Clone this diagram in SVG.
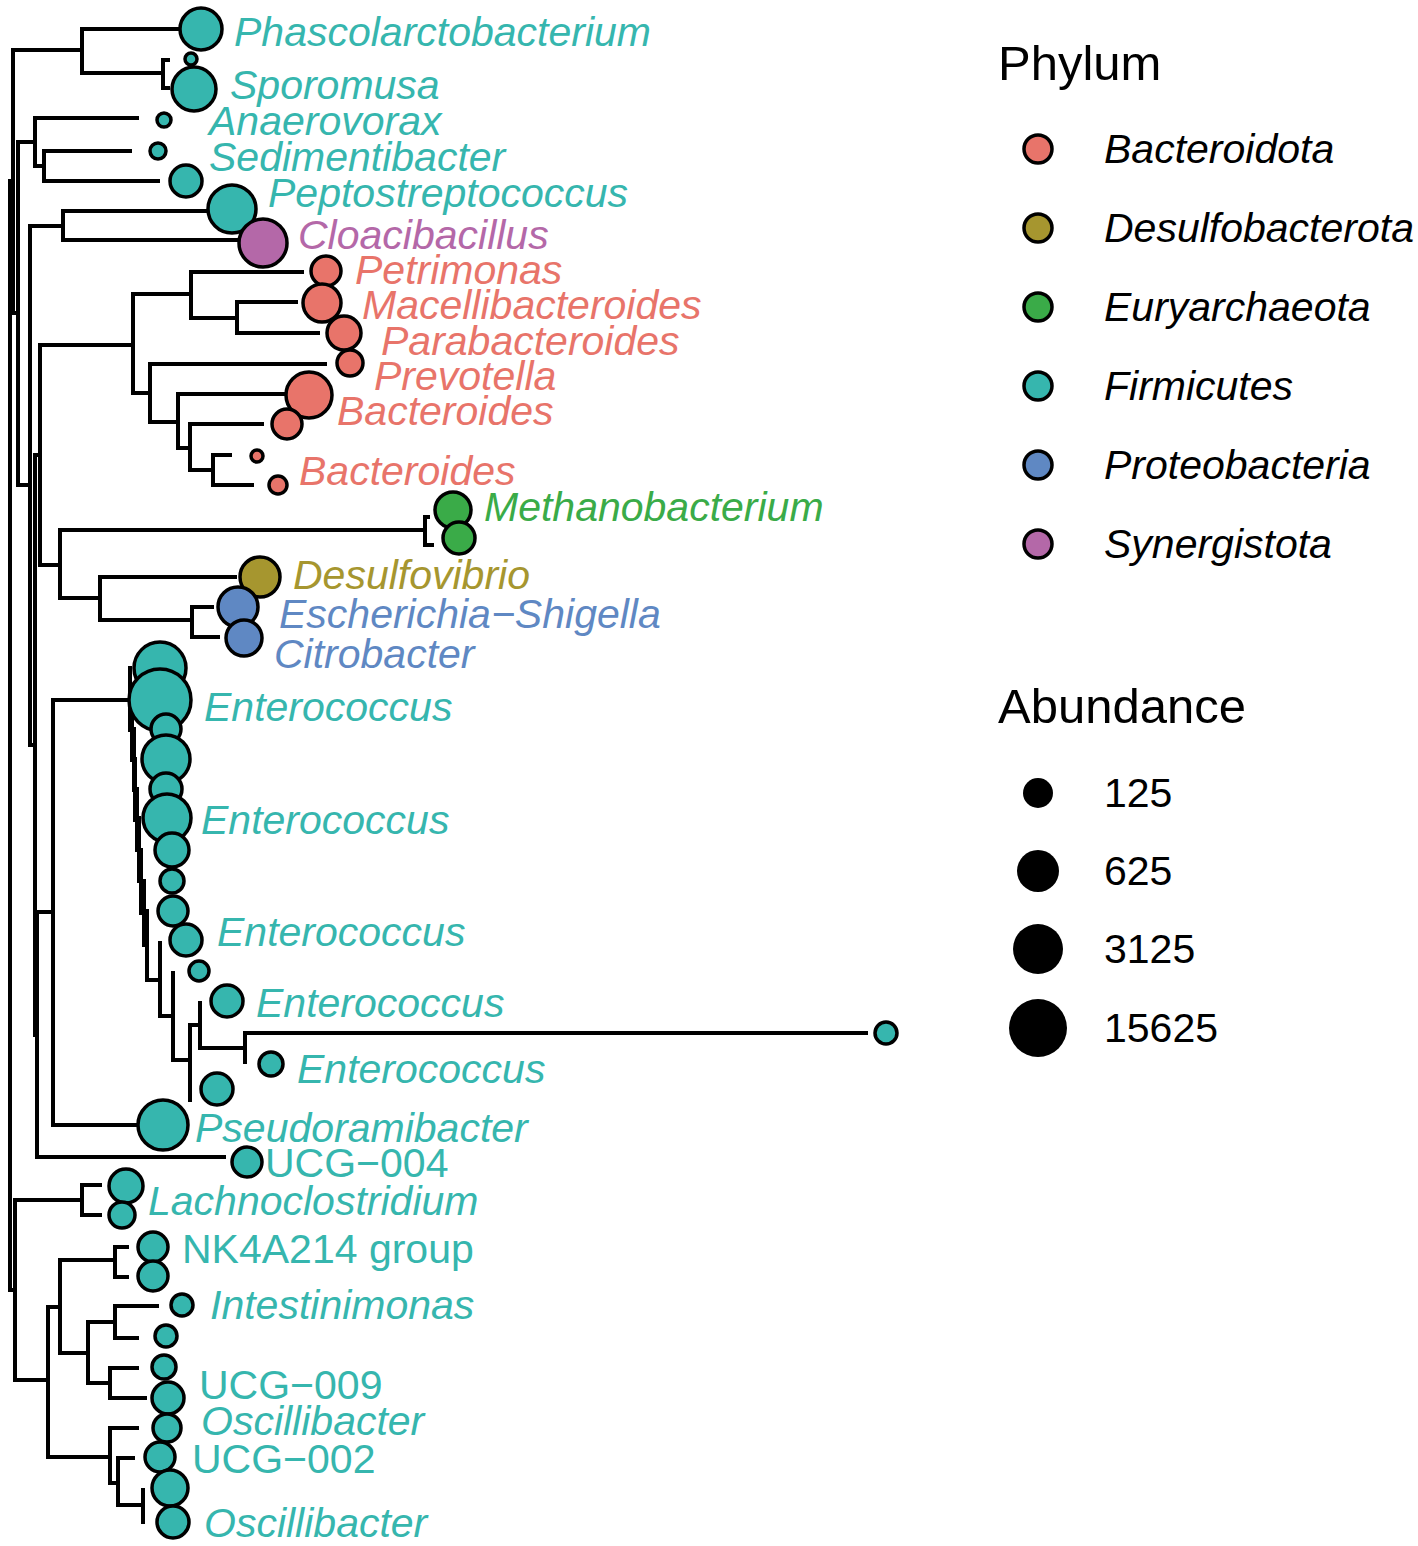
<svg xmlns="http://www.w3.org/2000/svg" width="1418" height="1546" viewBox="0 0 1418 1546">
<style>
.br{stroke:#000;stroke-width:4;fill:none;stroke-linecap:square}
.c{stroke:#000;stroke-width:3.5}
.F{fill:#36B6AE}.B{fill:#E8746A}.D{fill:#A6962F}.E{fill:#3AAB48}.P{fill:#5F88C3}.S{fill:#B468A8}
.t{font-family:"Liberation Sans",Arial,sans-serif;font-size:41px;font-style:italic}
.u{font-style:normal}
.lt{font-family:"Liberation Sans",Arial,sans-serif;font-size:41px;fill:#000}
.h{font-family:"Liberation Sans",Arial,sans-serif;font-size:49px;fill:#000}
</style>
<rect width="1418" height="1546" fill="#fff"/>
<g id="connectors" class="br">
<path d="M10,181V1290M10,181H13M13,50V313M13,50H82M82,29V73M82,29H180M82,73H163M163,60V88M163,60H168M163,88H168M10,1290H15M13,313H18M18,142V485M18,142H35M35,118V166M35,118H137M35,166H44M44,151V181M44,151H130M44,181H158M18,485H30M30,226V745M30,226H63M63,211V240M63,211H206M63,240H238M30,745H35M35,455V1035M35,455H40M40,345V565M40,345H133"/>
<path d="M133,294V393M133,294H191M191,272V318M191,272H302M191,318H237M237,302V333M237,302H296M237,333H318M133,393H150M150,364V422M150,364H325M150,422H178M178,394V448M178,394H287M178,448H190M190,424V470M190,424H262M190,470H213M213,455V485M213,455H230M213,485H252"/>
<path d="M40,565H60M60,530V598M60,530H425M425,517V545M425,517H428M425,545H432M60,598H100M100,577V620M100,577H235M100,620H192M192,607V637M192,607H212M192,637H218"/>
<path d="M35,1035H37M37,912V1157M37,1157H224M37,912H53M53,700V1125M53,1125H140M53,700H130"/>
<path d="M130,668V730H132M132,700V760H134M134,729V790H135M135,759V820H137M137,789V850H139M139,818V881H141M141,850V913H144M144,881V945H147M147,911V980H160M160,943V1016H173M173,973V1060H190M190,1025V1100M190,1025H200M200,1003V1048H245M245,1033V1062M245,1033H866"/>
<path d="M15,1200V1380M15,1200H82M82,1185V1215M82,1185H100M82,1215H100M15,1380H48M48,1307V1457M48,1307H60M60,1260V1353M60,1260H115M115,1247V1277M115,1247H127M115,1277H127M60,1353H88M88,1322V1383M88,1322H115M115,1306V1338M115,1306H157M115,1338H137M88,1383H110M110,1368V1398M110,1368H137M110,1398H145M48,1457H110M110,1428V1483M110,1428H137M110,1483H118M118,1458V1505M118,1458H133M118,1505H143M143,1490V1522"/>
</g>
<g id="tips">
<g id="n-phascolarctobacterium"><circle class="c F" cx="201" cy="29" r="21"/><text class="t F" x="234" y="46">Phascolarctobacterium</text></g>
<g id="n-t2"><circle class="c F" cx="191" cy="59" r="6"/></g>
<g id="n-sporomusa"><circle class="c F" cx="194" cy="89" r="22"/><text class="t F" x="230" y="99">Sporomusa</text></g>
<g id="n-anaerovorax"><circle class="c F" cx="164" cy="120" r="7"/><text class="t F" x="209" y="135">Anaerovorax</text></g>
<g id="n-sedimentibacter"><circle class="c F" cx="158" cy="151" r="8"/><text class="t F" x="209" y="171">Sedimentibacter</text></g>
<g id="n-t6"><circle class="c F" cx="186" cy="181" r="16"/></g>
<g id="n-peptostreptococcus"><circle class="c F" cx="232" cy="209" r="24"/><text class="t F" x="268" y="207">Peptostreptococcus</text></g>
<g id="n-cloacibacillus"><circle class="c S" cx="263" cy="243" r="24"/><text class="t S" x="298" y="249">Cloacibacillus</text></g>
<g id="n-petrimonas"><circle class="c B" cx="326" cy="271" r="15"/><text class="t B" x="355" y="284">Petrimonas</text></g>
<g id="n-macellibacteroides"><circle class="c B" cx="322" cy="303" r="19"/><text class="t B" x="362" y="319">Macellibacteroides</text></g>
<g id="n-parabacteroides"><circle class="c B" cx="344" cy="333" r="17"/><text class="t B" x="381" y="355">Parabacteroides</text></g>
<g id="n-prevotella"><circle class="c B" cx="350" cy="363" r="13"/><text class="t B" x="374" y="390">Prevotella</text></g>
<g id="n-bacteroides1"><circle class="c B" cx="309" cy="395" r="23"/><text class="t B" x="337" y="425">Bacteroides</text></g>
<g id="n-t14"><circle class="c B" cx="287" cy="424" r="15"/></g>
<g id="n-t15"><circle class="c B" cx="257" cy="456" r="6"/></g>
<g id="n-bacteroides2"><circle class="c B" cx="278" cy="485" r="9"/><text class="t B" x="299" y="485">Bacteroides</text></g>
<g id="n-methanobacterium"><circle class="c E" cx="453" cy="510" r="18"/><circle class="c E" cx="459" cy="538" r="16"/><text class="t E" x="484" y="521">Methanobacterium</text></g>
<g id="n-desulfovibrio"><circle class="c D" cx="260" cy="577" r="20"/><text class="t D" x="293" y="589">Desulfovibrio</text></g>
<g id="n-escherichia"><circle class="c P" cx="238" cy="607" r="20"/><text class="t P" x="279" y="628">Escherichia−Shigella</text></g>
<g id="n-citrobacter"><circle class="c P" cx="244" cy="638" r="18"/><text class="t P" x="274" y="668">Citrobacter</text></g>
<g id="n-enterococcus-a"><circle class="c F" cx="160" cy="668" r="26"/><circle class="c F" cx="160" cy="700" r="31"/><circle class="c F" cx="166" cy="729" r="15"/><circle class="c F" cx="166" cy="759" r="24"/><circle class="c F" cx="166" cy="789" r="16"/><text class="t F" x="204" y="721">Enterococcus</text></g>
<g id="n-enterococcus-b"><circle class="c F" cx="167" cy="818" r="24"/><circle class="c F" cx="172" cy="850" r="17"/><circle class="c F" cx="172" cy="881" r="12"/><text class="t F" x="201" y="834">Enterococcus</text></g>
<g id="n-enterococcus-c"><circle class="c F" cx="173" cy="911" r="15"/><circle class="c F" cx="186" cy="940" r="16"/><circle class="c F" cx="199" cy="971" r="10"/><text class="t F" x="217" y="946">Enterococcus</text></g>
<g id="n-enterococcus-d"><circle class="c F" cx="227" cy="1001" r="16"/><circle class="c F" cx="886" cy="1033" r="11"/><text class="t F" x="256" y="1017">Enterococcus</text></g>
<g id="n-enterococcus-e"><circle class="c F" cx="271" cy="1064" r="12"/><circle class="c F" cx="217" cy="1089" r="16"/><text class="t F" x="297" y="1083">Enterococcus</text></g>
<g id="n-pseudoramibacter"><circle class="c F" cx="163" cy="1125" r="25"/><text class="t F" x="195" y="1142">Pseudoramibacter</text></g>
<g id="n-ucg004"><circle class="c F" cx="247" cy="1162" r="15"/><text class="t u F" x="265" y="1177">UCG−004</text></g>
<g id="n-lachnoclostridium"><circle class="c F" cx="126" cy="1186" r="17"/><circle class="c F" cx="122" cy="1215" r="13"/><text class="t F" x="148" y="1215">Lachnoclostridium</text></g>
<g id="n-nk4a214"><circle class="c F" cx="153" cy="1247" r="15"/><circle class="c F" cx="153" cy="1276" r="15"/><text class="t u F" x="182" y="1263">NK4A214 group</text></g>
<g id="n-intestinimonas"><circle class="c F" cx="182" cy="1305" r="11"/><circle class="c F" cx="166" cy="1336" r="11"/><text class="t F" x="210" y="1319">Intestinimonas</text></g>
<g id="n-ucg009"><circle class="c F" cx="164" cy="1367" r="12"/><circle class="c F" cx="168" cy="1398" r="16"/><text class="t u F" x="199" y="1399">UCG−009</text></g>
<g id="n-oscillibacter1"><circle class="c F" cx="167" cy="1428" r="14"/><text class="t F" x="201" y="1435">Oscillibacter</text></g>
<g id="n-ucg002"><circle class="c F" cx="160" cy="1457" r="15"/><text class="t u F" x="192" y="1473">UCG−002</text></g>
<g id="n-oscillibacter2"><circle class="c F" cx="170" cy="1488" r="18"/><circle class="c F" cx="173" cy="1522" r="16"/><text class="t F" x="204" y="1537">Oscillibacter</text></g>
</g>
<g id="legend-phylum">
<text class="h" x="998" y="80">Phylum</text>
<circle class="c B" cx="1038" cy="149" r="14"/><text class="lt" font-style="italic" x="1104" y="163">Bacteroidota</text>
<circle class="c D" cx="1038" cy="228" r="14"/><text class="lt" font-style="italic" x="1104" y="242">Desulfobacterota</text>
<circle class="c E" cx="1038" cy="307" r="14"/><text class="lt" font-style="italic" x="1104" y="321">Euryarchaeota</text>
<circle class="c F" cx="1038" cy="386" r="14"/><text class="lt" font-style="italic" x="1104" y="400">Firmicutes</text>
<circle class="c P" cx="1038" cy="465" r="14"/><text class="lt" font-style="italic" x="1104" y="479">Proteobacteria</text>
<circle class="c S" cx="1038" cy="544" r="14"/><text class="lt" font-style="italic" x="1104" y="558">Synergistota</text>
</g>
<g id="legend-abundance">
<text class="h" x="998" y="723">Abundance</text>
<circle cx="1038" cy="793" r="15" fill="#000"/><text class="lt" x="1104" y="807">125</text>
<circle cx="1038" cy="871" r="21" fill="#000"/><text class="lt" x="1104" y="885">625</text>
<circle cx="1038" cy="949" r="25" fill="#000"/><text class="lt" x="1104" y="963">3125</text>
<circle cx="1038" cy="1028" r="29" fill="#000"/><text class="lt" x="1104" y="1042">15625</text>
</g>
</svg>
